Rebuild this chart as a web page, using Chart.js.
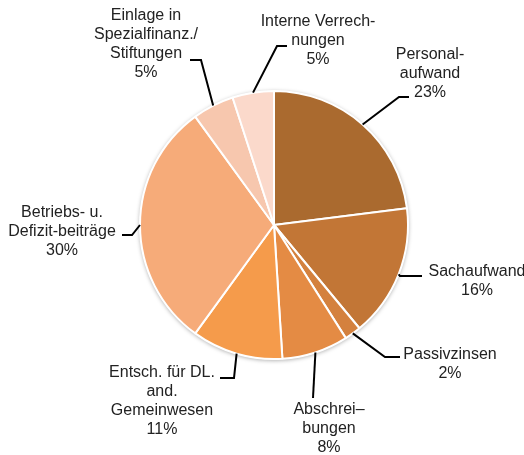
<!DOCTYPE html>
<html>
<head>
<meta charset="utf-8">
<script src="https://cdn.jsdelivr.net/npm/chart.js@4.4.0/dist/chart.umd.min.js"></script>
<style>
html,body{margin:0;padding:0;background:#fff;}
#wrap{width:524px;height:455px;position:relative;}
</style>
</head>
<body>
<div id="wrap"><canvas id="c" width="524" height="455"></canvas></div>
<script>
// Data
const categories = [
  ["Personal-", "aufwand"],
  ["Sachaufwand"],
  ["Passivzinsen"],
  ["Abschrei–", "bungen"],
  ["Entsch. für DL.", "and.", "Gemeinwesen"],
  ["Betriebs- u.", "Defizit-beiträge"],
  ["Einlage in", "Spezialfinanz./", "Stiftungen"],
  ["Interne Verrech-", "nungen"]
];
const shares = [23, 16, 2, 8, 11, 30, 5, 5];
const colors = ["#AA6A2F", "#C27636", "#D4813E", "#E48B44", "#F59B4B", "#F6AB79", "#F7C7AE", "#FBD9CB"];

// Label layout (relative to pie centre): text centre of first line, elbow, end of leader
const labelLayout = [
  {tx: 156, ty: -170, elbow: [125, -128], end: [135, -128]},
  {tx: 203, ty: 47,   elbow: [126, 51],  end: [148, 51]},
  {tx: 176, ty: 130,  elbow: [111, 132], end: [126, 132]},
  {tx: 55,  ty: 185,  elbow: [39, 173],  end: [39, 173]},
  {tx: -112, ty: 148, elbow: [-40, 153], end: [-54, 153]},
  {tx: -212, ty: -12, elbow: [-142, 10], end: [-152, 10]},
  {tx: -128, ty: -209, elbow: [-73, -165], end: [-84, -165]},
  {tx: 44,  ty: -203, elbow: [3, -179],  end: [13, -179]}
];

const FONT = '16px "Liberation Sans", Arial, sans-serif';
const LH = 19;

const shadowPlugin = {
  id: 'shadow',
  beforeDatasetsDraw(chart) {
    const arc = chart.getDatasetMeta(0).data[0];
    if (!arc) return;
    const ctx = chart.ctx;
    ctx.save();
    ctx.shadowColor = 'rgba(0,0,0,0.35)';
    ctx.shadowBlur = 4;
    ctx.shadowOffsetX = 0;
    ctx.shadowOffsetY = 1;
    ctx.fillStyle = '#fff';
    ctx.beginPath();
    ctx.arc(arc.x, arc.y, arc.outerRadius + 0.5, 0, Math.PI * 2);
    ctx.fill();
    ctx.restore();
  }
};

const labelPlugin = {
  id: 'outLabels',
  afterDatasetsDraw(chart) {
    const ctx = chart.ctx;
    const meta = chart.getDatasetMeta(0);
    ctx.save();
    meta.data.forEach((arc, i) => {
      const L = labelLayout[i];
      const cx = arc.x, cy = arc.y;
      const mid = (arc.startAngle + arc.endAngle) / 2;
      const ex = cx + Math.cos(mid) * arc.outerRadius;
      const ey = cy + Math.sin(mid) * arc.outerRadius;
      ctx.strokeStyle = '#000';
      ctx.lineWidth = 2;
      ctx.lineJoin = 'miter';
      ctx.beginPath();
      ctx.moveTo(ex, ey);
      ctx.lineTo(cx + L.elbow[0], cy + L.elbow[1]);
      ctx.lineTo(cx + L.end[0], cy + L.end[1]);
      ctx.stroke();
      const lines = categories[i].concat([shares[i] + '%']);
      ctx.fillStyle = '#222222';
      ctx.font = FONT;
      ctx.textAlign = 'center';
      ctx.textBaseline = 'middle';
      lines.forEach((t, k) => {
        ctx.fillText(t, cx + L.tx, cy + L.ty + k * LH);
      });
    });
    ctx.restore();
  }
};

new Chart(document.getElementById('c'), {
  type: 'pie',
  data: {
    labels: categories.map(c => c.join(' ')),
    datasets: [{
      data: shares,
      backgroundColor: colors,
      borderColor: '#ffffff',
      borderWidth: 2
    }]
  },
  options: {
    responsive: false,
    animation: false,
    devicePixelRatio: 1,
    layout: {padding: {left: 139, right: 115, top: 90, bottom: 95}},
    plugins: {legend: {display: false}, tooltip: {enabled: false}}
  },
  plugins: [shadowPlugin, labelPlugin]
});
</script>
</body>
</html>
